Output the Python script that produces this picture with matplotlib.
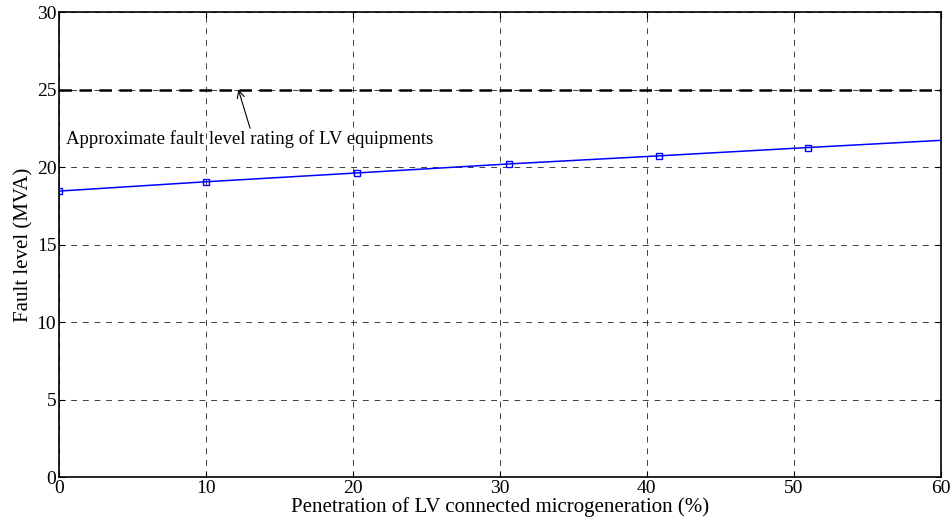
import matplotlib
matplotlib.use('Agg')
import matplotlib.pyplot as plt

# penetration (%) vs fault level (MVA)
penetration = [0.0, 10.0, 20.3, 30.6, 40.8, 51.0, 60.0]
fault_level = [18.45, 19.05, 19.62, 20.2, 20.72, 21.26, 21.72]
marked_points = [0, 1, 2, 3, 4, 5]

rating_level = 25.0
rating_text = 'Approximate fault level rating of LV equipments'

x_ticks = [0, 10, 20, 30, 40, 50, 60]
y_ticks = [0, 5, 10, 15, 20, 25, 30]

plt.rcParams.update({
    'font.family': ['Liberation Serif', 'DejaVu Serif'],
    'font.size': 13,
})

fig, ax = plt.subplots(figsize=(9.53, 5.22), dpi=100)
fig.subplots_adjust(left=0.062, right=0.987, top=0.977, bottom=0.086)

ax.plot(penetration, fault_level, color='#0000ff', lw=1.1,
        marker='s', markersize=5, markerfacecolor='none',
        markeredgecolor='#0000ff', markeredgewidth=1.0,
        markevery=marked_points, zorder=3)

ax.plot([x_ticks[0], x_ticks[-1]], [rating_level, rating_level],
        color='black', lw=1.8, ls=(0, (5, 3)), zorder=3)

# label under the rating line, with a short arrow pointing up to it
ax.text(0.5, 21.8, rating_text, fontsize=13.5, ha='left', va='center')
ax.annotate('', xy=(12.2, rating_level), xytext=(13.0, 22.5),
            arrowprops=dict(arrowstyle='->', color='black', lw=0.8,
                            shrinkA=0, shrinkB=0))

ax.set_xlim(x_ticks[0], x_ticks[-1])
ax.set_ylim(y_ticks[0], y_ticks[-1])
ax.set_xticks(x_ticks)
ax.set_yticks(y_ticks)
ax.grid(True, color='black', ls=(0, (6, 6)), lw=0.7, alpha=0.75)
ax.tick_params(direction='in', length=4, labelsize=14, top=True, right=True,
               pad=2)
for s in ax.spines.values():
    s.set_linewidth(1.2)

ax.set_xlabel('Penetration of LV connected microgeneration (%)', fontsize=15, labelpad=0)
ax.set_ylabel('Fault level (MVA)', fontsize=15, labelpad=2)

fig.savefig('out.png', dpi=100)
